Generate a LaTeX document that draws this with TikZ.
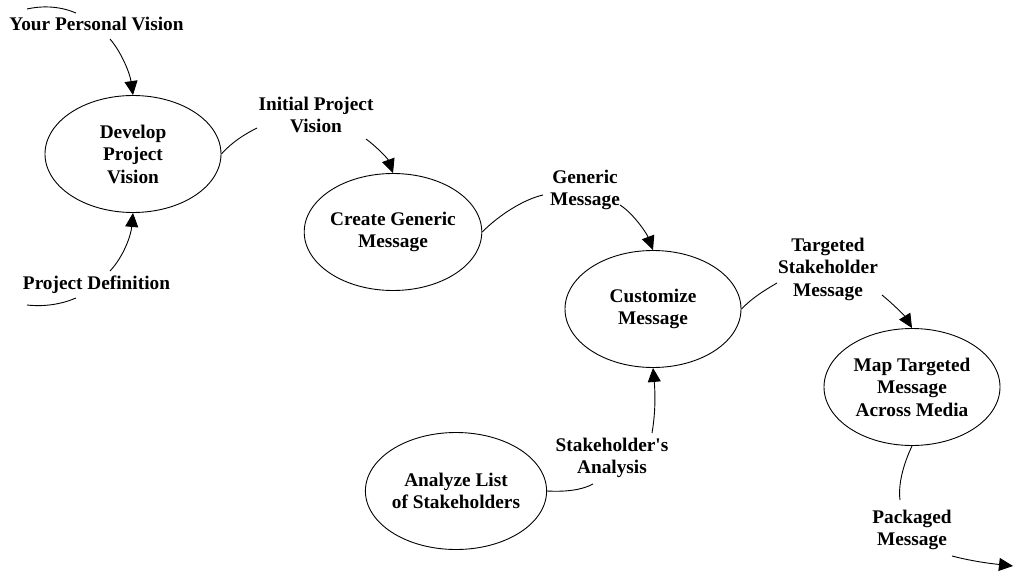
\documentclass[tikz,border=0pt]{standalone}
\usepackage{fontspec}
\setmainfont{Liberation Serif}
\usetikzlibrary{shapes.geometric,arrows.meta}
\begin{document}
\begin{tikzpicture}[x=1pt,y=-1pt,
  every node/.style={font=\fontsize{19.3}{22.5}\selectfont\bfseries, align=center, inner sep=0pt},
  proc/.style={draw, ellipse, line width=0.9pt, minimum width=176pt, minimum height=117pt},
  flow/.style={line width=0.9pt},
  arr/.style={flow, -{Triangle[length=14pt,width=13pt]}},
  lbl/.style={}]
\useasboundingbox (0,0) rectangle (1013,573);
% processes
\node[proc] (dev) at (133,154) {Develop\\Project\\Vision};
\node[proc] (gen) at (393,232) {Create Generic\\Message};
\node[proc] (cus) at (653,309) {Customize\\Message};
\node[proc] (map) at (912,387) {Map Targeted\\Message\\Across Media};
\node[proc] (ana) at (456,491) {Analyze List\\of Stakeholders};
% labels
\node[lbl] (pv) at (96.5,24) {Your Personal Vision};
\node[lbl] (pd) at (96.5,285) {Project Definition};
\node[lbl] (ipv) at (316,115) {Initial Project\\Vision};
\node[lbl] (gm) at (585,190) {Generic\\Message};
\node[lbl] (tsm) at (828,269) {Targeted\\Stakeholder\\Message};
\node[lbl] (sa) at (612,458) {Stakeholder\textquotesingle s\\Analysis};
\node[lbl] (pm) at (912,530) {Packaged\\Message};
% free ends
\coordinate (a1) at (27,9);
\coordinate (a2) at (76,13);
\coordinate (b1) at (27,305);
\coordinate (b2) at (76,298);
\coordinate (pvs) at (110,39);
\coordinate (pds) at (110,271);
\coordinate (ipve) at (257,128);
\coordinate (ipvs) at (366,139);
\coordinate (gme) at (543,195);
\coordinate (gms) at (620,205);
\coordinate (tsme) at (777,283);
\coordinate (tsms) at (882,295);
\coordinate (sae) at (593,484);
\coordinate (sas) at (652,433);
\coordinate (pme) at (900,500);
\coordinate (pms) at (952,556);
\coordinate (out) at (1013,566);
% connectors
\draw[flow] (a1) .. controls (45,5) and (62,7) .. (a2);
\draw[flow] (b1) .. controls (45,307) and (62,304) .. (b2);
\draw[arr] (pvs) .. controls (122,53) and (130,74) .. (dev.north);
\draw[arr] (pds) .. controls (124,256) and (131,235) .. (dev.south);
\draw[flow] (dev.east) .. controls (232,142) and (245,134) .. (ipve);
\draw[arr] (ipvs) .. controls (377,147) and (388,159) .. (gen.north);
\draw[flow] (gen.east) .. controls (500,214) and (525,199) .. (gme);
\draw[arr] (gms) .. controls (634,214) and (647,234) .. (cus.north);
\draw[flow] (cus.east) .. controls (752,298) and (765,290) .. (tsme);
\draw[arr] (tsms) .. controls (893,304) and (904,315) .. (map.north);
\draw[flow] (ana.east) .. controls (566,492) and (582,490) .. (sae);
\draw[arr] (sas) .. controls (656,410) and (655,390) .. (cus.south);
\draw[flow] (map.south) .. controls (903,465) and (898,485) .. (pme);
\draw[arr] (pms) .. controls (975,562) and (995,564) .. (out);
\end{tikzpicture}
\end{document}
